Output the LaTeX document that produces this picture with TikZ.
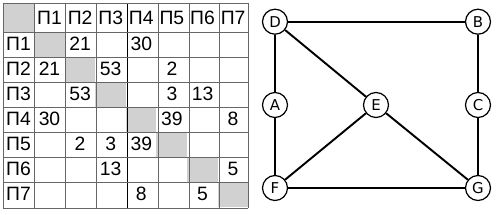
\documentclass[tikz,border=0pt]{standalone}
\usepackage{fontspec}
\setmainfont{Liberation Sans}
\newfontfamily\graphfont{DejaVu Sans}
\begin{document}
\begin{tikzpicture}[x=0.02cm, y=-0.02cm,
    cellgray/.style={fill=black!18, draw=none},
    gridline/.style={draw=black!60, line width=0.5pt},
    entry/.style={font=\fontsize{11}{13}\selectfont, inner sep=0pt},
    vertex/.style={circle, draw, fill=white, line width=0.7pt, minimum size=0.5cm,
        inner sep=0pt, font=\graphfont\fontsize{8.5}{10}\selectfont},
    edge/.style={line width=1.1pt}]

    \useasboundingbox (0,0) rectangle (500,215);

    % Shaded cells
    \fill[cellgray] (3,3) rectangle (34,32);
    \foreach \k in {1,...,7}
        \fill[cellgray] ({34+30.6*(\k-1)},{32+25*(\k-1)}) rectangle ({34+30.6*\k},{32+25*\k});

    % Grid
    \foreach \x in {3,34,65,96,158,189,219,248}
        \draw[gridline] (\x,3) -- (\x,208);
    \draw[line width=0.5pt] (127,3) -- (127,208);
    \foreach \y in {3,32,57,82,107,132,157,182,208}
        \draw[gridline] (3,\y) -- (248,\y);

    % Headers
    \foreach \k in {1,...,7} {
        \node[entry] (h\k) at ({49.5+30.6*(\k-1)},17.5) {П\k};
        \node[entry] (r\k) at (18.5,{43.5+25*(\k-1)}) {П\k};
    }

    % Distances
    \foreach \r/\c/\v in {1/2/21, 1/4/30, 2/1/21, 2/3/53, 2/5/2, 3/2/53, 3/5/3, 3/6/13,
        4/1/30, 4/5/39, 4/7/8, 5/2/2, 5/3/3, 5/4/39, 6/3/13, 6/7/5, 7/4/8, 7/6/5}
        \node[entry] (v-\r-\c) at ({49.5+30.6*(\c-1)},{44+25*(\r-1)}) {\v};

    % Nodes
    \node[vertex] (D) at (275,21.7) {D};
    \node[vertex] (B) at (478,21.7) {B};
    \node[vertex] (A) at (275,105) {A};
    \node[vertex] (E) at (376,105) {E};
    \node[vertex] (C) at (478,105) {C};
    \node[vertex] (F) at (275,188) {F};
    \node[vertex] (G) at (478,188) {G};

    % Roads
    \draw[edge] (D) -- (B);
    \draw[edge] (D) -- (A);
    \draw[edge] (A) -- (F);
    \draw[edge] (F) -- (G);
    \draw[edge] (B) -- (C);
    \draw[edge] (C) -- (G);
    \draw[edge] (D) -- (E);
    \draw[edge] (E) -- (F);
    \draw[edge] (E) -- (G);

\end{tikzpicture}
\end{document}
